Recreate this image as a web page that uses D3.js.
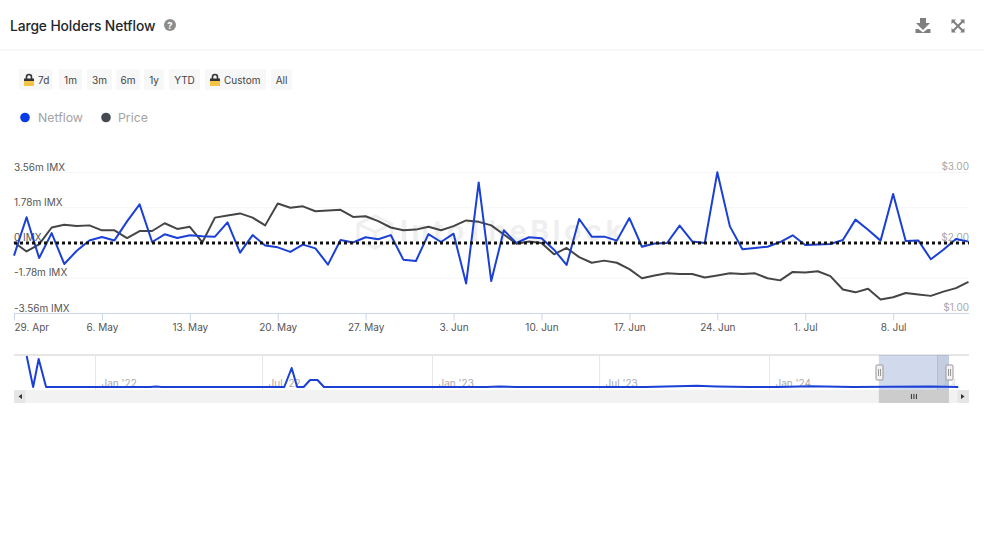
<!DOCTYPE html>
<html><head><meta charset="utf-8">
<script src="https://cdnjs.cloudflare.com/ajax/libs/d3/7.8.5/d3.min.js"></script>
<style>html,body{margin:0;padding:0;background:#fff}svg{display:block;font-family:Inter,"Noto Sans",sans-serif}</style>
</head><body><svg id="c" width="984" height="554"></svg>
<script>
const startDate = "2024-04-29";
const netflow = [-0.64,1.30,-0.76,0.50,-1.06,-0.39,0.13,0.30,0.13,1.09,1.95,0.05,0.44,0.25,0.39,0.34,0.32,1.04,-0.49,0.40,-0.13,-0.22,-0.45,-0.08,-0.27,-1.09,0.15,0.03,0.29,0.19,0.40,-0.84,-0.91,0.45,0.05,0.47,-2.05,3.06,-1.92,0.64,0,0.29,0.24,-0.34,-1.11,1.21,0.32,0.32,0.12,1.26,-0.19,-0.03,0,0.88,0.08,0,3.57,0.84,-0.32,-0.25,-0.19,0.05,0.39,-0.10,-0.08,-0.05,0.15,1.18,0.67,0.12,2.47,0.10,0.13,-0.82,-0.34,0.20,0.07];
const price = [2.01,1.88,1.98,2.22,2.26,2.24,2.25,2.18,2.18,2.07,2.17,2.17,2.28,2.20,2.23,2.01,2.36,2.39,2.42,2.36,2.25,2.56,2.50,2.52,2.45,2.46,2.47,2.37,2.38,2.31,2.22,2.18,2.19,2.23,2.18,2.24,2.32,2.30,2.25,2.12,1.99,2.02,2.00,1.84,1.93,1.80,1.72,1.75,1.72,1.63,1.50,1.54,1.57,1.56,1.56,1.51,1.54,1.57,1.56,1.57,1.50,1.47,1.59,1.58,1.60,1.53,1.34,1.30,1.35,1.20,1.23,1.29,1.27,1.25,1.31,1.36,1.45];
const xTickDates = ["2024-04-29","2024-05-06","2024-05-13","2024-05-20","2024-05-27","2024-06-03","2024-06-10","2024-06-17","2024-06-24","2024-07-01","2024-07-08"];
const xTickLabels = ["29. Apr","6. May","13. May","20. May","27. May","3. Jun","10. Jun","17. Jun","24. Jun","1. Jul","8. Jul"];
const leftTicks = [-3.56,-1.78,0,1.78,3.56];
const leftLabels = ["-3.56m IMX","-1.78m IMX","0 IMX","1.78m IMX","3.56m IMX"];
const rightTicks = [1,2,3];
const rightLabels = ["$1.00","$2.00","$3.00"];
const navDates = ["2021-10-19","2021-10-26","2021-11-01","2021-11-09","2022-01-06","2022-03-02","2022-03-08","2022-03-14","2022-07-21","2022-07-25","2022-08-02","2022-08-08","2022-08-15","2022-08-22","2022-08-30","2022-09-06","2023-03-01","2023-03-15","2023-04-01","2023-08-20","2023-10-15","2023-11-05","2023-12-10","2024-01-10","2024-02-15","2024-03-01","2024-04-01","2024-05-10","2024-06-24","2024-07-24"];
const navValues = [31,0,28,0,0,0,0.6,0,0,0,19,0,0,7,7,0,0,0.4,0,0,1.2,0.6,0,0,0.8,0.4,0,0.3,0.5,0];
const navTickDates = ["2022-01-01","2022-07-01","2023-01-01","2023-07-01","2024-01-01","2024-07-01"];
const navTickLabels = ["Jan '22","Jul '22","Jan '23","Jul '23","Jan '24","Jul '24"];
const buttons = ["7d","1m","3m","6m","1y","YTD","Custom","All"];
const lockedButtons = ["7d","Custom"];
const buttonEdges = [[19,52],[59,82],[87,112],[116,140],[144,164],[169,200],[205,266],[271,292]];
const legendItems = ["Netflow","Price"];
const BLUE="#1a40d6", GREY="#454545";

const svg=d3.select("#c");
const pd=d3.utcParse("%Y-%m-%d");
const dates=netflow.map((_,i)=>d3.utcDay.offset(pd(startDate),i));
const x=d3.scaleUtc().domain([dates[0],dates[dates.length-1]]).range([14,968.5]);
const yL=d3.scaleLinear().domain([-3.56,3.56]).range([313.5,172.5]);
const yR=d3.scaleLinear().domain([1,3]).range([313.5,172.5]);

// header
svg.append("text").attr("x",10).attr("y",31).attr("font-size",13.8).attr("font-weight",500).attr("fill","#22262b").attr("letter-spacing",-0.1).text("Large Holders Netflow");
const help=svg.append("g").attr("transform","translate(170,25)");
help.append("circle").attr("r",6).attr("fill","#8c8c8c");
help.append("text").attr("text-anchor","middle").attr("y",3.5).attr("font-size",9.5).attr("font-weight",700).attr("fill","#fff").text("?");
svg.append("line").attr("x1",0).attr("x2",984).attr("y1",50).attr("y2",50).attr("stroke","#f1f1f1");
svg.append("path").attr("fill","#7f7f7f").attr("d","M920 18h6v5h4l-7 7-7-7h4zM915.5 29h3l4.5 3.5 4.5-3.5h3v4h-15z");
svg.append("path").attr("fill","none").attr("stroke","#7f7f7f").attr("stroke-width",2).attr("d","M953 21l10 10M963 21l-10 10");
svg.append("path").attr("fill","#7f7f7f").attr("d","M951.5 19.5h4.5l-4.5 4.5zM964.5 19.5v4.5l-4.5-4.5zM951.5 32.5v-4.5l4.5 4.5zM964.5 32.5h-4.5l4.5-4.5z");

// range buttons
buttons.forEach((b,i)=>{
  const [a,e]=buttonEdges[i], locked=lockedButtons.includes(b);
  const g=svg.append("g");
  g.append("rect").attr("x",a).attr("y",69).attr("width",e-a).attr("height",21).attr("rx",2).attr("fill","#f7f7f7");
  if(locked){
    const l=g.append("g").attr("transform",`translate(${a+5},74)`);
    l.append("path").attr("d","M2.5 5V3a2.5 2.5 0 0 1 5 0v2").attr("fill","none").attr("stroke","#333").attr("stroke-width",1.6);
    l.append("rect").attr("x",0).attr("y",4.5).attr("width",10).attr("height",2.5).attr("fill","#333");
    l.append("rect").attr("x",0).attr("y",7).attr("width",10).attr("height",5).attr("fill","#f6c344");
  }
  g.append("text").attr("x",locked?a+19:(a+e)/2).attr("text-anchor",locked?"start":"middle").attr("y",83.5).attr("font-size",10).attr("fill","#444").text(b);
});

// legend
const legendX=[25,106];
legendItems.forEach((t,i)=>{
  svg.append("circle").attr("cx",legendX[i]).attr("cy",117.5).attr("r",4.8).attr("fill",i?"#454a52":"#0b3be6");
  svg.append("text").attr("x",legendX[i]+(i?12:13)).attr("y",122).attr("font-size",12.3).attr("fill","#a3a3a3").text(t);
});

// watermark
const wm=svg.append("g");
wm.append("path").attr("fill","none").attr("stroke","#efefef").attr("stroke-width",3).attr("d","M375 216l17 8v16l-17 8-17-8v-16zM358 224l17 8 17-8M375 232v16");
wm.append("text").attr("x",400).attr("y",241).attr("font-size",28).attr("font-weight",700).attr("fill","#efefef").attr("textLength",222).attr("lengthAdjust","spacing").text("IntoTheBlock");

// grid
svg.append("g").selectAll("line").data(leftTicks.filter(d=>d>-3.56)).join("line")
  .attr("x1",14).attr("x2",969).attr("y1",d=>yL(d)).attr("y2",d=>yL(d)).attr("stroke","#f6f6f6");

// x axis
const xAxis=d3.axisBottom(x).tickValues(xTickDates.map(pd)).tickSize(7).tickPadding(3.5)
  .tickFormat((d,i)=>xTickLabels[i]);
const gx=svg.append("g").attr("transform","translate(0,313.5)").call(xAxis);
gx.select(".domain").attr("stroke","#ccd6eb").attr("d","M14,0H969");
gx.selectAll(".tick line").attr("stroke","#ccd6eb");
gx.selectAll("text").attr("font-family","Inter").attr("font-size",10).attr("fill","#555");
gx.select(".tick text").attr("text-anchor","start");

// y labels
svg.append("g").selectAll("text").data(leftTicks).join("text")
  .attr("x",14).attr("y",d=>yL(d)-2).attr("font-size",10).attr("fill","#555").text((d,i)=>leftLabels[i]);
svg.append("g").selectAll("text").data(rightTicks).join("text")
  .attr("x",969).attr("text-anchor","end").attr("y",d=>yR(d)-2.5).attr("font-size",10).attr("fill","#a8a8a8").text((d,i)=>rightLabels[i]);

// series
const lineP=d3.line().x((d,i)=>x(dates[i])).y(d=>yR(d));
const lineN=d3.line().x((d,i)=>x(dates[i])).y(d=>yL(d));
svg.append("path").datum(price).attr("d",lineP).attr("fill","none").attr("stroke",GREY).attr("stroke-width",2).attr("stroke-linejoin","round");
svg.append("path").datum(netflow).attr("d",lineN).attr("fill","none").attr("stroke",BLUE).attr("stroke-width",2).attr("stroke-linejoin","round");
svg.append("line").attr("x1",14).attr("x2",969).attr("y1",yL(0)).attr("y2",yL(0)).attr("stroke","#111").attr("stroke-width",3).attr("stroke-dasharray","3 3");

// navigator
const nx=d3.scaleUtc().domain([pd("2022-01-01"),pd("2024-07-01")]).range([95,937]);
const ny=d3.scaleLinear().domain([0,31]).range([387,356]);
svg.append("clipPath").attr("id","navClip").append("rect").attr("x",14).attr("y",355).attr("width",942).attr("height",35);
svg.append("line").attr("x1",14).attr("x2",969).attr("y1",355).attr("y2",355).attr("stroke","#dedede").attr("stroke-width",1.5);
const navAxis=d3.axisBottom(nx).tickValues(navTickDates.map(pd)).tickSize(35).tickPadding(0).tickFormat((d,i)=>navTickLabels[i]);
const gn=svg.append("g").attr("transform","translate(0,355)").attr("clip-path","url(#navClip)").call(navAxis);
gn.attr("clip-path",null);
gn.select(".domain").remove();
gn.selectAll(".tick line").attr("stroke","#e6e6e6");
gn.selectAll(".tick text").attr("text-anchor","start").attr("x",6).attr("y",25).attr("font-family","Inter").attr("font-size",10).attr("fill","#aaa");
gn.selectAll(".tick text").filter((d,i)=>i===navTickLabels.length-1).attr("textLength",12).attr("lengthAdjust","spacingAndGlyphs").attr("opacity",0.5);
const selX=[nx(dates[0]),nx(dates[dates.length-1])];
// scrollbar
svg.append("rect").attr("x",14).attr("y",390).attr("width",955).attr("height",13).attr("fill","#f2f2f2");
svg.append("rect").attr("x",14).attr("y",390).attr("width",11.5).attr("height",13).attr("fill","#e6e6e6");
svg.append("rect").attr("x",957.5).attr("y",390).attr("width",11.5).attr("height",13).attr("fill","#e6e6e6");
svg.append("path").attr("fill","#333").attr("d","M22 394v5l-3.5-2.5zM961 394v5l3.5-2.5z");
svg.append("rect").attr("x",selX[0]).attr("y",390).attr("width",selX[1]-selX[0]).attr("height",13).attr("fill","#cccccc");
svg.append("path").attr("stroke","#333").attr("d",`M${(selX[0]+selX[1])/2-2.5} 394v5M${(selX[0]+selX[1])/2} 394v5M${(selX[0]+selX[1])/2+2.5} 394v5`);
// selection mask, with the slightly darker band after the last tick
svg.append("rect").attr("x",selX[0]).attr("y",355).attr("width",selX[1]-selX[0]).attr("height",35).attr("fill","rgba(102,133,194,0.3)");
svg.append("rect").attr("x",nx(pd("2024-07-01"))).attr("y",355).attr("width",selX[1]-nx(pd("2024-07-01"))).attr("height",35).attr("fill","rgba(90,100,130,0.1)");
// navigator series
svg.append("path").datum(navValues).attr("d",d3.line().x((d,i)=>nx(pd(navDates[i]))).y(d=>ny(d)))
  .attr("fill","none").attr("stroke",BLUE).attr("stroke-width",2).attr("stroke-linejoin","round");
// handles
selX.forEach(h=>{
  const g=svg.append("g").attr("transform",`translate(${Math.round(h)+0.5},365)`);
  g.append("rect").attr("x",-3.5).attr("width",7).attr("height",15).attr("rx",1).attr("fill","#f2f2f2").attr("stroke","#999");
  g.append("path").attr("stroke","#999").attr("d","M-1 4v7M1 4v7");
});
</script></body></html>
